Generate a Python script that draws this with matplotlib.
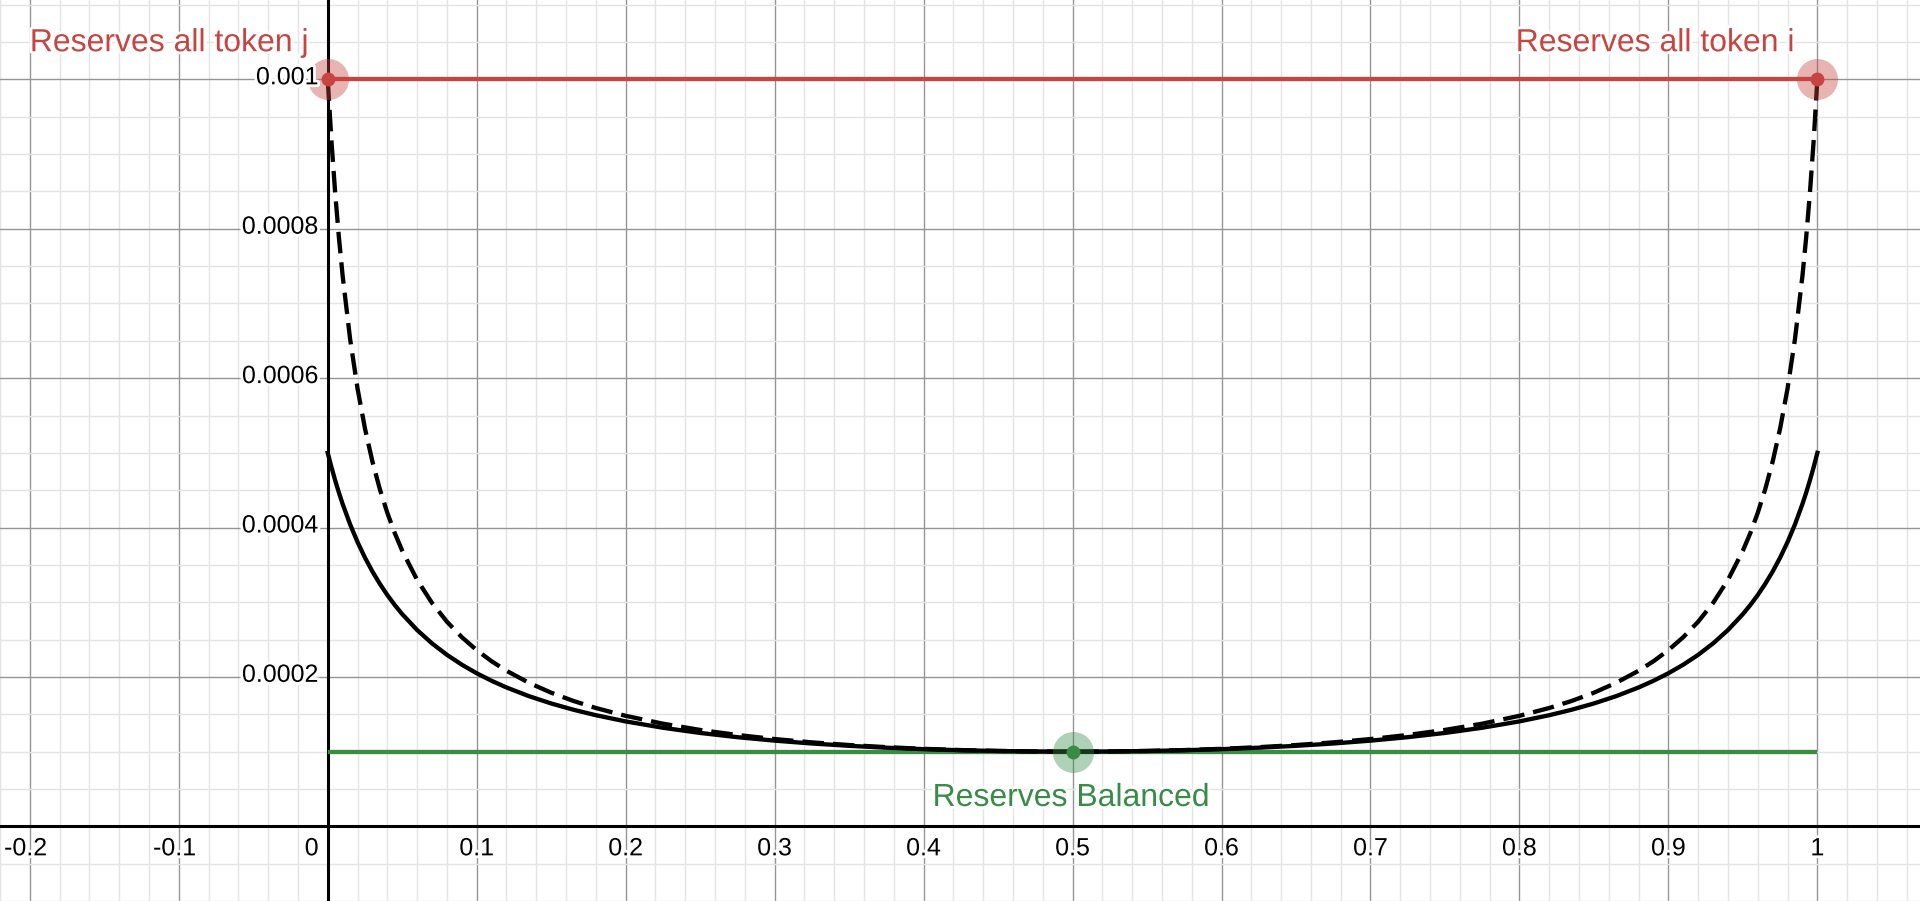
import matplotlib
matplotlib.use("Agg")
import matplotlib.pyplot as plt
import matplotlib.patheffects as pe
import numpy as np

# ---- data ----
x_share = [0, 0.0025, 0.005, 0.0075, 0.01, 0.015, 0.02, 0.025, 0.03, 0.035, 0.04,
           0.045, 0.05, 0.06, 0.07, 0.08, 0.09, 0.1, 0.11, 0.12, 0.135, 0.15, 0.165,
           0.18, 0.2, 0.225, 0.25, 0.275, 0.3, 0.325, 0.35, 0.375, 0.4, 0.425, 0.45,
           0.475, 0.5,
           0.525, 0.55, 0.575, 0.6, 0.625, 0.65, 0.675, 0.7, 0.725, 0.75, 0.775, 0.8,
           0.82, 0.835, 0.85, 0.865, 0.88, 0.89, 0.9, 0.91, 0.92, 0.93, 0.94, 0.95,
           0.955, 0.96, 0.965, 0.97, 0.975, 0.98, 0.985, 0.99, 0.9925, 0.995, 0.9975, 1]
fee_solid = [0.00050000, 0.00048082, 0.00046314, 0.00044679, 0.00043163, 0.00040440,
             0.00038063, 0.00035971, 0.00034116, 0.00032459, 0.00030971, 0.00029628,
             0.00028409, 0.00026283, 0.00024491, 0.00022961, 0.00021641, 0.00020492,
             0.00019483, 0.00018590, 0.00017431, 0.00016447, 0.00015604, 0.00014874,
             0.00014045, 0.00013193, 0.00012500, 0.00011933, 0.00011468, 0.00011086,
             0.00010776, 0.00010526, 0.00010331, 0.00010183, 0.00010081, 0.00010020,
             0.00010000,
             0.00010020, 0.00010081, 0.00010183, 0.00010331, 0.00010526, 0.00010776,
             0.00011086, 0.00011468, 0.00011933, 0.00012500, 0.00013193, 0.00014045,
             0.00014874, 0.00015604, 0.00016447, 0.00017431, 0.00018590, 0.00019483,
             0.00020492, 0.00021641, 0.00022961, 0.00024491, 0.00026283, 0.00028409,
             0.00029628, 0.00030971, 0.00032459, 0.00034116, 0.00035971, 0.00038063,
             0.00040440, 0.00043163, 0.00044679, 0.00046314, 0.00048082, 0.00050000]
fee_dashed = [0.00100000, 0.00091762, 0.00084810, 0.00078866, 0.00073725, 0.00065278,
              0.00058630, 0.00053262, 0.00048838, 0.00045129, 0.00041974, 0.00039261,
              0.00036900, 0.00032999, 0.00029908, 0.00027400, 0.00025327, 0.00023585,
              0.00022102, 0.00020826, 0.00019216, 0.00017889, 0.00016779, 0.00015839,
              0.00014793, 0.00013741, 0.00012903, 0.00012229, 0.00011682, 0.00011239,
              0.00010881, 0.00010596, 0.00010373, 0.00010207, 0.00010091, 0.00010023,
              0.00010000,
              0.00010023, 0.00010091, 0.00010207, 0.00010373, 0.00010596, 0.00010881,
              0.00011239, 0.00011682, 0.00012229, 0.00012903, 0.00013741, 0.00014793,
              0.00015839, 0.00016779, 0.00017889, 0.00019216, 0.00020826, 0.00022102,
              0.00023585, 0.00025327, 0.00027400, 0.00029908, 0.00032999, 0.00036900,
              0.00039261, 0.00041974, 0.00045129, 0.00048838, 0.00053262, 0.00058630,
              0.00065278, 0.00073725, 0.00078866, 0.00084810, 0.00091762, 0.00100000]
max_fee = 0.001
min_fee = 0.0001
red_points_x = [0, 1]
green_point_x = [0.5]
label_j = "Reserves all token j"
label_i = "Reserves all token i"
label_bal = "Reserves Balanced"
x_tick_vals = [-0.2, -0.1, 0, 0.1, 0.2, 0.3, 0.4, 0.5, 0.6, 0.7, 0.8, 0.9, 1]
x_tick_labels = ["-0.2", "-0.1", "0", "0.1", "0.2", "0.3", "0.4", "0.5", "0.6",
                 "0.7", "0.8", "0.9", "1"]
y_tick_vals = [0.0002, 0.0004, 0.0006, 0.0008, 0.001]
y_tick_labels = ["0.0002", "0.0004", "0.0006", "0.0008", "0.001"]

RED = "#c74440"
GREEN = "#388c46"
FONT = "Liberation Sans"
TICK_FS = 18
LW = 3.1

fig = plt.figure(figsize=(19.2, 9.01), dpi=100)
ax = fig.add_axes([0, 0, 1, 1])
ax.set_xlim(-0.2162, 1.0689)
ax.set_ylim(-0.0000761, 0.0011063)
for s in ax.spines.values():
    s.set_visible(False)

# grid
ax.set_xticks(np.arange(-0.2, 1.0701, 0.1))
ax.set_xticks(np.arange(-0.22, 1.0701, 0.02), minor=True)
ax.set_yticks(np.arange(0, 0.00111, 0.0002))
ax.set_yticks(np.arange(-0.0001, 0.00111, 0.00005), minor=True)
ax.tick_params(which="both", length=0, labelbottom=False, labelleft=False)
ax.grid(which="minor", color="#e4e4e4", lw=1.0, zorder=0)
ax.grid(which="major", color="#959595", lw=1.0, zorder=0.5)
ax.set_axisbelow(True)

# axes
ax.axhline(0, color="black", lw=2.2, zorder=1)
ax.axvline(0, color="black", lw=2.2, zorder=1)

# tick labels
stroke = [pe.withStroke(linewidth=4, foreground="white")]
for v, t in zip(x_tick_vals, x_tick_labels):
    if t == "0":
        ax.annotate(t, xy=(v, 0), xytext=(-6.5, -20.9), textcoords="offset points",
                    ha="right", va="baseline", fontsize=TICK_FS, family=FONT,
                    path_effects=stroke, zorder=6)
    else:
        dx = -3.0 if t.startswith("-") else 0
        ax.annotate(t, xy=(v, 0), xytext=(dx, -20.9), textcoords="offset points",
                    ha="center", va="baseline", fontsize=TICK_FS, family=FONT,
                    path_effects=stroke, zorder=6)
for v, t in zip(y_tick_vals, y_tick_labels):
    ax.annotate(t, xy=(0, v), xytext=(-6.5, 1.5), textcoords="offset points",
                ha="right", va="center", fontsize=TICK_FS, family=FONT,
                path_effects=stroke, zorder=6)

# horizontal reference lines
ax.plot([0, 1], [min_fee, min_fee], color=GREEN, lw=LW, zorder=2,
        solid_capstyle="butt")
# curves
ax.plot(x_share, fee_solid, color="black", lw=LW, zorder=3,
        solid_joinstyle="round")
ax.plot(x_share, fee_dashed, color="black", lw=LW, zorder=3,
        linestyle=(0, (5, 2.1)))
ax.plot([0, 1], [max_fee, max_fee], color=RED, lw=LW, zorder=4,
        solid_capstyle="butt")

# points
ax.plot(red_points_x, [max_fee] * len(red_points_x), "o", ms=29.5, color=RED,
        alpha=0.4, mec="none", zorder=5)
ax.plot(red_points_x, [max_fee] * len(red_points_x), "o", ms=10, color=RED,
        mec="none", zorder=5)
ax.plot(green_point_x, [min_fee], "o", ms=29.5, color=GREEN, alpha=0.4,
        mec="none", zorder=5)
ax.plot(green_point_x, [min_fee], "o", ms=10, color=GREEN, mec="none", zorder=5)

# labels
ax.text(-0.0127, 0.0010377, label_j, color=RED, fontsize=23, family=FONT,
        ha="right", va="baseline", path_effects=stroke, zorder=7)
ax.text(0.9848, 0.0010377, label_i, color=RED, fontsize=23, family=FONT,
        ha="right", va="baseline", path_effects=stroke, zorder=7)
ax.text(0.4991, 0.0000272, label_bal, color=GREEN, fontsize=23, family=FONT,
        ha="center", va="baseline", path_effects=stroke, zorder=7)

fig.savefig("out.png", dpi=100)
